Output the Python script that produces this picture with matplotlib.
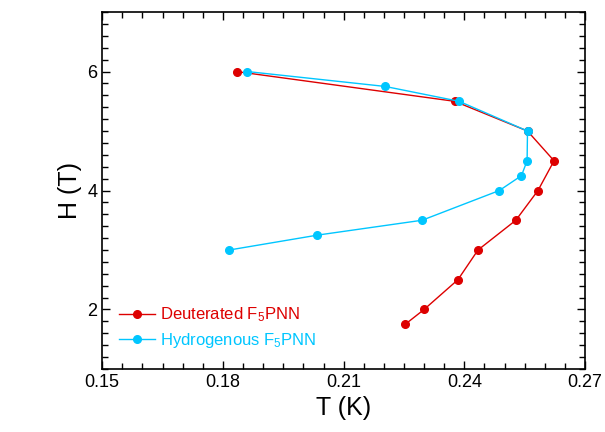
import matplotlib
matplotlib.use("Agg")
import matplotlib.pyplot as plt
from matplotlib.ticker import MultipleLocator, FormatStrFormatter

plt.rcParams['font.family'] = ['Liberation Sans', 'DejaVu Sans']
plt.rcParams['mathtext.fontset'] = 'custom'
plt.rcParams['mathtext.rm'] = 'Liberation Sans'
plt.rcParams['mathtext.it'] = 'Liberation Sans'

# deuterated sample
t_deut = [0.1834, 0.2376, 0.2557, 0.2623, 0.2583, 0.2528, 0.2434, 0.2384, 0.2300, 0.2253]
h_deut = [6.0, 5.5, 5.0, 4.5, 4.0, 3.5, 3.0, 2.5, 2.0, 1.75]

# hydrogenous sample
t_hyd = [0.1861, 0.2203, 0.2387, 0.2557, 0.2556, 0.2542, 0.2487, 0.2295, 0.2035, 0.1816]
h_hyd = [6.0, 5.75, 5.5, 5.0, 4.5, 4.25, 4.0, 3.5, 3.25, 3.0]

red = '#dd0000'
blue = '#00c6ff'

fig, ax = plt.subplots(figsize=(6.05, 4.32), dpi=100)
fig.subplots_adjust(left=0.169, right=0.967, top=0.972, bottom=0.146)

ax.plot(t_deut, h_deut, '-o', color=red, lw=1, ms=5.5, label='Deuterated F$_5$PNN')
ax.plot(t_hyd, h_hyd, '-o', color=blue, lw=1, ms=5.5, label='Hydrogenous F$_5$PNN')

ax.set_xlim(0.15, 0.27)
ax.set_ylim(1, 7)
ax.xaxis.set_major_locator(MultipleLocator(0.03))
ax.xaxis.set_minor_locator(MultipleLocator(0.005))
ax.xaxis.set_major_formatter(FormatStrFormatter('%.2f'))
ax.set_yticks([2, 4, 6])
ax.yaxis.set_minor_locator(MultipleLocator(0.2))
ax.tick_params(which='both', direction='in', top=True, right=True, width=1)
ax.tick_params(which='major', length=6, labelsize=13)
ax.tick_params(which='minor', length=4)
for s in ax.spines.values():
    s.set_linewidth(1.2)

ax.set_xlabel('T (K)', fontsize=18)
ax.set_ylabel('H (T)', fontsize=18)

leg = ax.legend(loc='lower left', bbox_to_anchor=(0.01, 0.02), frameon=False,
                fontsize=12, handlelength=2.2, handletextpad=0.3, labelspacing=0.4,
                borderaxespad=0.3)
for txt, c in zip(leg.get_texts(), [red, blue]):
    txt.set_color(c)

fig.savefig('out.png', dpi=100)
